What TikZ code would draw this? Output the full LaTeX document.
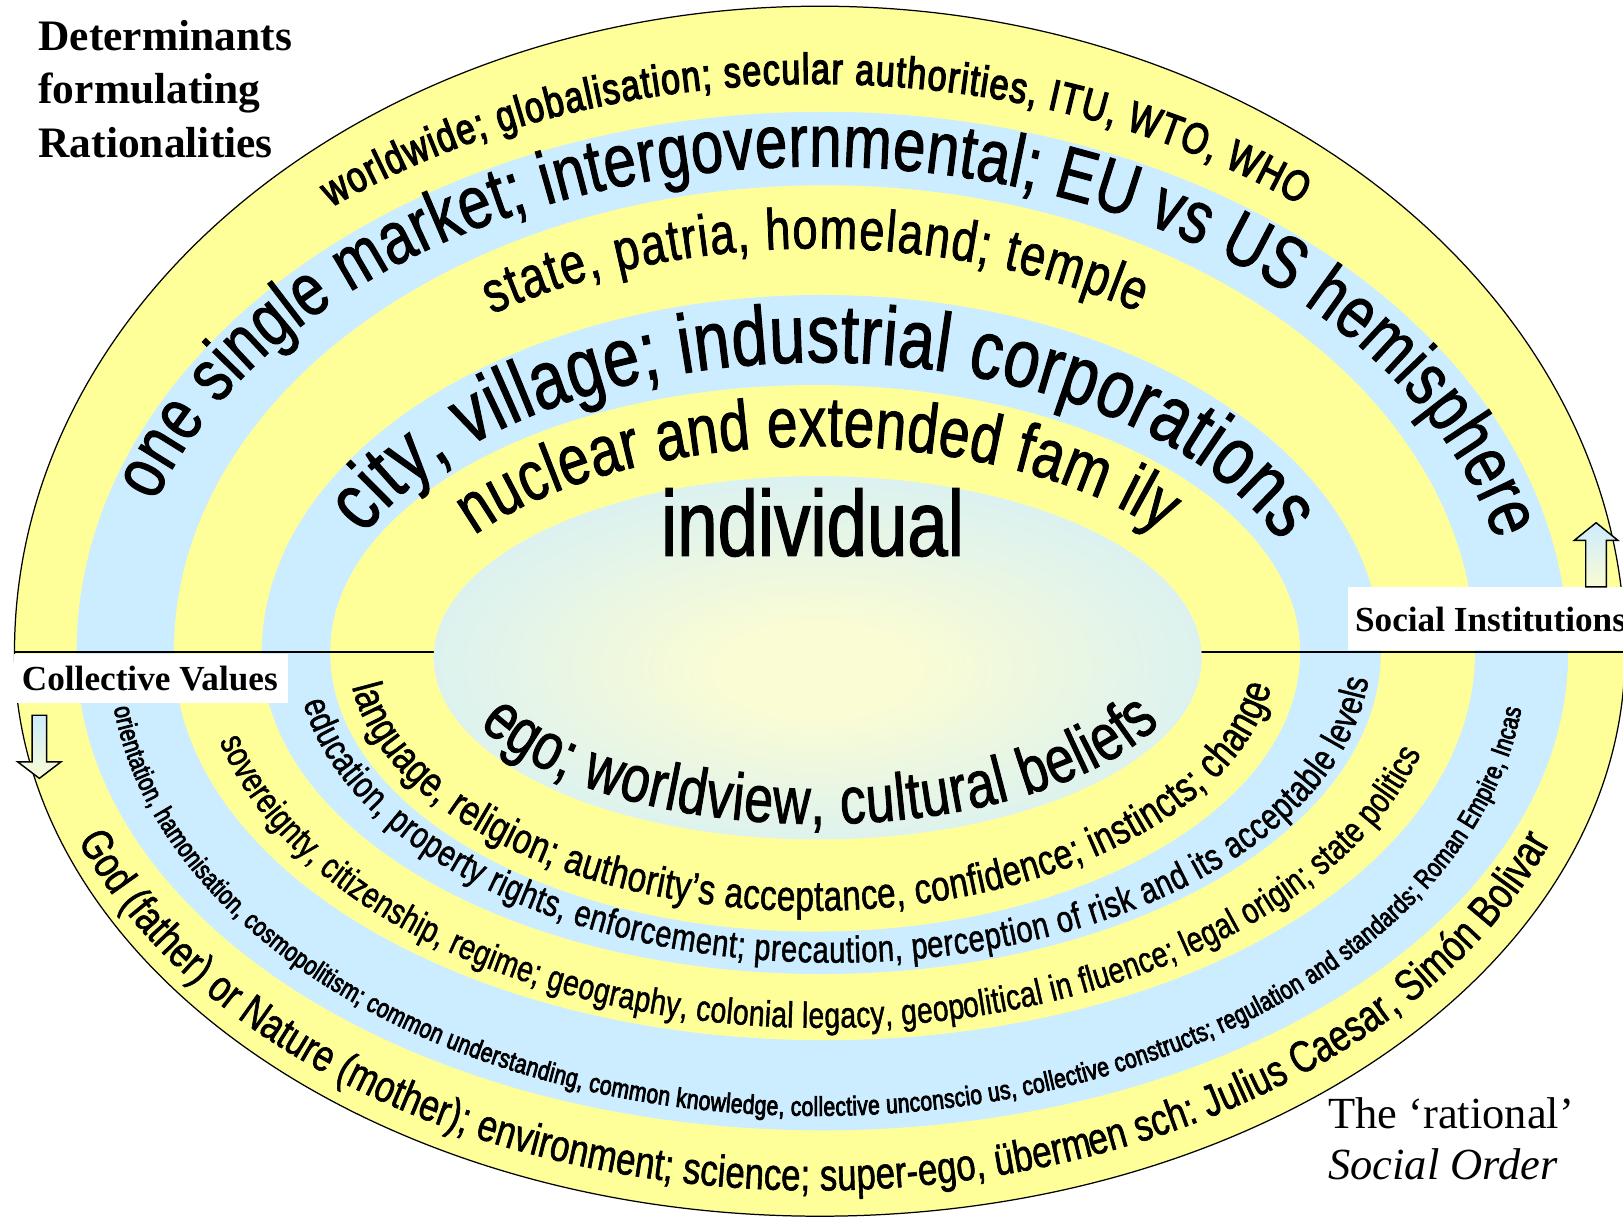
\documentclass[tikz,border=0pt]{standalone}
\usepackage{fontspec}
\setmainfont{Liberation Serif}
\newfontfamily\nf[FakeStretch=0.78,FakeBold=1.3]{Liberation Sans}
\newfontfamily\nfb[FakeStretch=0.78,FakeBold=3]{Liberation Sans}
\usetikzlibrary{decorations.text}
\definecolor{yelC}{RGB}{255,255,153}
\definecolor{bluC}{RGB}{204,236,255}
\definecolor{palY}{RGB}{250,252,212}
\pgfdeclareradialshading{innerglow}{\pgfpoint{0bp}{-2bp}}{color(0bp)=(palY); color(6bp)=(palY); color(22bp)=(palY!45!bluC); color(38bp)=(bluC); color(50bp)=(bluC)}
% #1 font, #2 cx, #3 a, #4 b, #5 start, #6 end, #7 font size, #8 text
\newcommand{\ArcTxt}[8][\nf]{%
  \path[decorate,decoration={text along path,text align=fit to path,
    text={|#1\fontsize{#7}{#7}\selectfont|#8}}]
    (#2,548) ++(#5:#3 and #4) arc[start angle=#5,end angle=#6,x radius=#3,y radius=#4];}
\newcommand{\Ring}[5]{%
  \fill[#5] (#1-#2,548) arc[start angle=180,end angle=0,x radius=#2,y radius=#3]
    arc[start angle=0,end angle=-180,x radius=#2,y radius=#4] -- cycle;}
\tikzset{
  lbl/.style={anchor=base west,inner sep=0pt,font=\bfseries\fontsize{#1}{#1}\selectfont},
  arrowshape/.style={top color=bluC,bottom color=palY,draw=black,line width=1.4pt,line join=miter}
}
\begin{document}
\begin{tikzpicture}[x=1pt,y=1pt]
\useasboundingbox (0,0) rectangle (1568,1178);
\fill[white] (0,0) rectangle (1568,1178);
% rings
\Ring{792}{778}{624}{545}{yelC}
\Ring{794.5}{720.5}{522}{462}{bluC}
\Ring{796.5}{628.5}{451}{375}{yelC}
\Ring{793.5}{540.5}{345}{311}{bluC}
\Ring{787.5}{468.5}{258}{270}{yelC}
% dividing line
\coordinate (lineL) at (14,548);
\coordinate (lineR) at (1575,548);
\draw[line width=2.6pt] (lineL) -- (lineR);
% inner ellipse
\shade[shading=innerglow] (790,542.5) ellipse[x radius=371,y radius=175.5];
% outer outline
\draw[line width=1.2pt] (14,548) arc[start angle=180,end angle=0,x radius=778,y radius=624]
    arc[start angle=0,end angle=-180,x radius=778,y radius=545];
% top texts
\ArcTxt[\nfb]{790}{755}{549}{128.5}{52}{42}{worldwide; globalisation; secular authorities, ITU, WTO, WHO}
\ArcTxt{790}{673}{469}{162}{13.3}{72}{one single market; intergovernmental; EU vs US hemisphere}
\ArcTxt{790}{575}{390}{123.2}{57.4}{56}{state, patria, homeland; temple}
\ArcTxt{792}{481}{280}{156.2}{22.3}{80}{city, village; industrial corporations}
\ArcTxt{792}{405}{199}{145.5}{35.4}{68}{nuclear and extended fam ily}
\node (indiv) [anchor=base,inner sep=0pt,font=\nf\fontsize{90}{90}\selectfont] at (785,641) {individual};
% bottom texts
\ArcTxt{791}{363}{166}{205.3}{335.4}{64}{ego; worldview, cultural beliefs}
\ArcTxt{784}{448}{250}{187.7}{352.3}{41}{language, religion; authority’s acceptance, confidence; instincts; change}
\ArcTxt{805}{519}{300}{189.4}{354.9}{36}{education, property rights, enforcement; precaution, perception of risk and its acceptable levels}
\ArcTxt{795}{600}{363}{193.7}{344.3}{35}{sovereignty, citizenship, regime; geography, colonial legacy, geopolitical in fluence; legal origin; state politics}
\ArcTxt[\nfb]{790}{685}{448}{186.9}{352.6}{26}{orientation, hamonisation, cosmopolitism; common understanding, common knowledge, collective unconscio us, collective constructs; regulation and standards; Roman Empire, Incas}
\ArcTxt{787}{760}{520}{200.5}{339.3}{43}{God (father) or Nature (mother); environment; science; super-ego, übermen sch: Julius Caesar, Simón Bolivar}
% labels
\node (det1) [lbl=42] at (37,1129) {Determinants};
\node (det2) [lbl=42] at (37,1078) {formulating};
\node (det3) [lbl=42] at (37,1026) {Rationalities};
\fill[white] (14,499) rectangle (278,546.5);
\node (cv) [lbl=34] at (21,511) {Collective Values};
\fill[white] (1302,550) rectangle (1575,611);
\node (si) [lbl=34] at (1309,568) {Social Institutions};
\node (rat1) [anchor=base west,inner sep=0pt,font=\fontsize{43}{43}\selectfont] at (1283,88) {The ‘rational’};
\node (rat2) [anchor=base west,inner sep=0pt,font=\itshape\fontsize{43}{43}\selectfont] at (1283,38) {Social Order};
% arrows
\shade[arrowshape] (1532,611) -- (1552,611) -- (1552,656) -- (1563,656) -- (1542,673) -- (1521,656) -- (1532,656) -- cycle;
\shade[arrowshape] (31,487) -- (45,487) -- (45,442) -- (59,442) -- (38,426) -- (17,442) -- (31,442) -- cycle;
\end{tikzpicture}
\end{document}
